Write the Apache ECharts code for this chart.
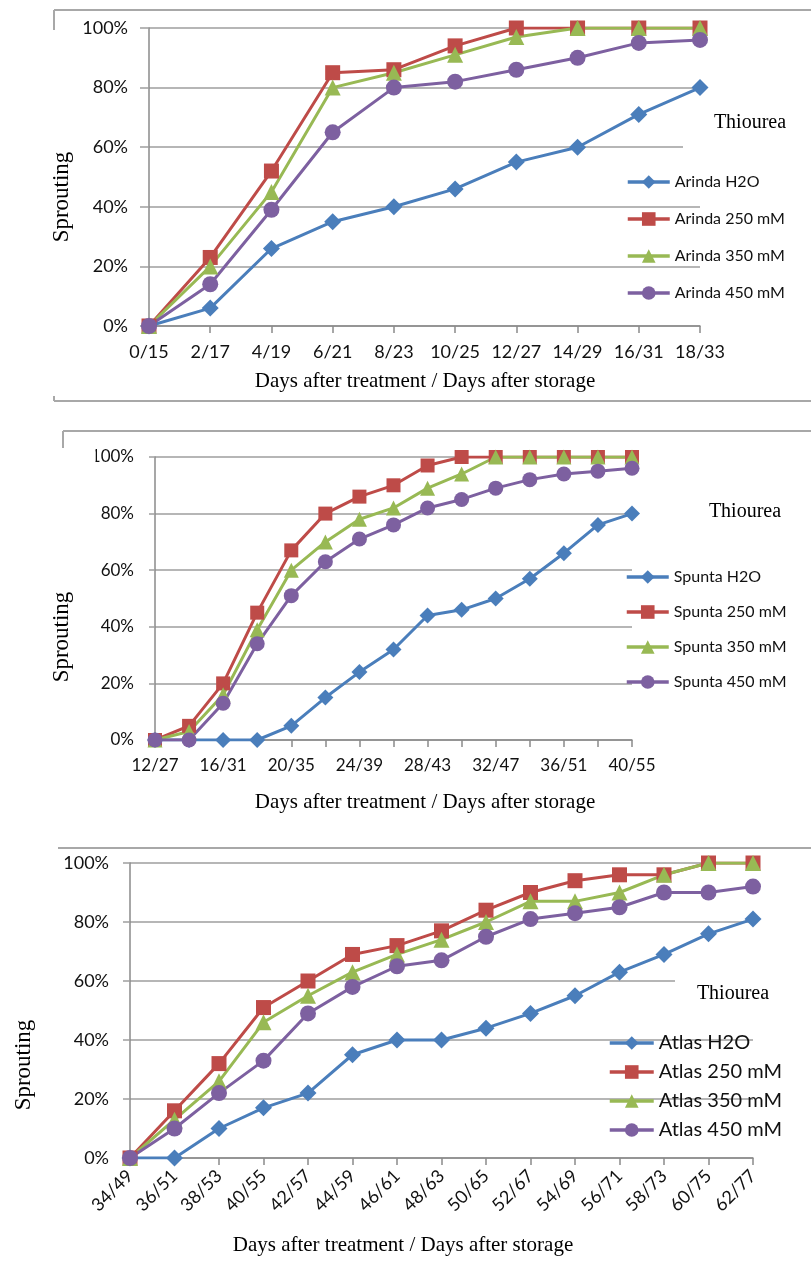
<!DOCTYPE html>
<html>
<head>
<meta charset="utf-8">
<title>Sprouting under thiourea treatment</title>
<script src="https://cdn.jsdelivr.net/npm/echarts@6/dist/echarts.min.js"></script>
<style>
  html, body { margin: 0; padding: 0; background: #fff; }
  #chart { width: 811px; height: 1266px; }
</style>
</head>
<body>
<div id="chart"></div>
<script>
// ---- Arinda ----
const arindaDays = ['0/15', '2/17', '4/19', '6/21', '8/23', '10/25', '12/27', '14/29', '16/31', '18/33'];
const arindaH2O = [0, 6, 26, 35, 40, 46, 55, 60, 71, 80];
const arinda250 = [0, 23, 52, 85, 86, 94, 100, 100, 100, 100];
const arinda350 = [0, 20, 45, 80, 85, 91, 97, 100, 100, 100];
const arinda450 = [0, 14, 39, 65, 80, 82, 86, 90, 95, 96];

// ---- Spunta ----
const spuntaDays = ['12/27', '14/29', '16/31', '18/33', '20/35', '22/37', '24/39', '26/41',
  '28/43', '30/45', '32/47', '34/49', '36/51', '38/53', '40/55'];
const spuntaH2O = [0, 0, 0, 0, 5, 15, 24, 32, 44, 46, 50, 57, 66, 76, 80];
const spunta250 = [0, 5, 20, 45, 67, 80, 86, 90, 97, 100, 100, 100, 100, 100, 100];
const spunta350 = [0, 3, 16, 39, 60, 70, 78, 82, 89, 94, 100, 100, 100, 100, 100];
const spunta450 = [0, 0, 13, 34, 51, 63, 71, 76, 82, 85, 89, 92, 94, 95, 96];

// ---- Atlas ----
const atlasDays = ['34/49', '36/51', '38/53', '40/55', '42/57', '44/59', '46/61', '48/63',
  '50/65', '52/67', '54/69', '56/71', '58/73', '60/75', '62/77'];
const atlasH2O = [0, 0, 10, 17, 22, 35, 40, 40, 44, 49, 55, 63, 69, 76, 81];
const atlas250 = [0, 16, 32, 51, 60, 69, 72, 77, 84, 90, 94, 96, 96, 100, 100];
const atlas350 = [0, 13, 26, 46, 55, 63, 69, 74, 80, 87, 87, 90, 96, 100, 100];
const atlas450 = [0, 10, 22, 33, 49, 58, 65, 67, 75, 81, 83, 85, 90, 90, 92];

const yTicks = [0, 20, 40, 60, 80, 100];
const treatments = ['H2O', '250 mM', '350 mM', '450 mM'];
const xTitle = 'Days after treatment / Days after storage';
const yTitle = 'Sprouting';
const noteText = 'Thiourea';

const SANS = 'Lato, "Open Sans", sans-serif';
const SERIF = '"Liberation Serif", "DejaVu Serif", serif';
const COLORS = ['#4a7ebb', '#be4b48', '#98b954', '#7d60a0'];
const SYMBOLS = ['diamond', 'rect', 'triangle', 'circle'];
const AXIS_GREY = '#8a8a8a';
const GRID_GREY = '#9e9e9e';

// panel layouts (pixels)
const panels = [
  { name: 'Arinda', days: arindaDays, values: [arindaH2O, arinda250, arinda350, arinda450],
    grid: { left: 149, width: 551, top: 28, height: 298 },
    tickFont: 18, yTickLen: 9, labelEvery: 0, rotate: 0, xMargin: 17,
    legend: { left: 621, top: 167, itemWidth: 42, font: 16, lineHeight: 20, gap: 17 },
    symbolSizes: [17, 15, 16, 16] },
  { name: 'Spunta', days: spuntaDays, values: [spuntaH2O, spunta250, spunta350, spunta450],
    grid: { left: 155, width: 477, top: 457, height: 283 },
    tickFont: 17, yTickLen: 6, labelEvery: 1, rotate: 0, xMargin: 17,
    legend: { left: 620, top: 562, itemWidth: 42, font: 16, lineHeight: 20, gap: 15 },
    symbolSizes: [16, 14, 15, 15] },
  { name: 'Atlas', days: atlasDays, values: [atlasH2O, atlas250, atlas350, atlas450],
    grid: { left: 130, width: 623, top: 863, height: 295 },
    tickFont: 18, yTickLen: 7, labelEvery: 0, rotate: 45, xMargin: 15,
    legend: { left: 603, top: 1027, itemWidth: 44, font: 20, lineHeight: 22, gap: 7 },
    symbolSizes: [17, 15, 16, 16] }
];

const grids = [], xAxes = [], yAxes = [], legends = [], series = [];

panels.forEach((p, i) => {
  grids.push({ left: p.grid.left, top: p.grid.top, width: p.grid.width, height: p.grid.height,
    containLabel: false });
  xAxes.push({
    type: 'category', gridIndex: i, data: p.days, boundaryGap: false,
    axisLine: { lineStyle: { color: AXIS_GREY, width: 1.5 } },
    axisTick: { show: true, interval: 0, length: 7, lineStyle: { color: AXIS_GREY, width: 1.5 } },
    axisLabel: { interval: p.labelEvery, rotate: p.rotate, margin: p.xMargin,
      fontFamily: SANS, fontSize: p.tickFont, color: '#111' },
    splitLine: { show: false }
  });
  yAxes.push({
    type: 'value', gridIndex: i, min: yTicks[0], max: yTicks[yTicks.length - 1], interval: 20,
    axisLine: { show: true, lineStyle: { color: AXIS_GREY, width: 1.5 } },
    axisTick: { show: true, length: p.yTickLen, lineStyle: { color: GRID_GREY, width: 1.5 } },
    axisLabel: { formatter: '{value}%', margin: 21, fontFamily: SANS, fontSize: p.tickFont, color: '#111' },
    splitLine: { show: true, lineStyle: { color: GRID_GREY, width: 1.5 } }
  });
  const names = treatments.map(t => p.name + ' ' + t);
  legends.push({
    orient: 'vertical', left: p.legend.left, top: p.legend.top,
    itemWidth: p.legend.itemWidth, itemHeight: 17, itemGap: p.legend.gap,
    data: names, selectedMode: false,
    lineStyle: { width: 3.5 },
    textStyle: { fontFamily: SANS, fontSize: p.legend.font, lineHeight: p.legend.lineHeight, color: '#111' }
  });
  names.forEach((n, k) => {
    series.push({
      name: n, type: 'line', xAxisIndex: i, yAxisIndex: i,
      data: p.values[k],
      symbol: SYMBOLS[k], symbolSize: p.symbolSizes[k],
      showAllSymbol: true,
      lineStyle: { color: COLORS[k], width: 3 },
      itemStyle: { color: COLORS[k] },
      emphasis: { disabled: true },
      animation: false
    });
  });
});

// frames, titles and notes
function hLine(x1, x2, y) {
  return { type: 'line', shape: { x1, y1: y, x2, y2: y }, style: { stroke: '#a8a8a8', lineWidth: 2 }, z: 3 };
}
function vLine(x, y1, y2) {
  return { type: 'line', shape: { x1: x, y1, x2: x, y2 }, style: { stroke: '#a8a8a8', lineWidth: 2 }, z: 3 };
}
function serifText(text, x, y, size, rotation) {
  return { type: 'text', x, y, rotation: rotation || 0, z: 5,
    style: { text, fontFamily: SERIF, fontSize: size, fill: '#000', align: 'center', verticalAlign: 'middle' } };
}
function whiteBox(x, y, w, h) {
  return { type: 'rect', shape: { x, y, width: w, height: h }, style: { fill: '#fff' }, z: 1 };
}

const graphics = [
  // box around the first panel
  hLine(54, 811, 10), vLine(54, 10, 30), hLine(54, 811, 401), vLine(54, 396, 401),
  // second panel frame
  hLine(63, 811, 431), vLine(63, 431, 448),
  // third panel frame
  hLine(58, 811, 848),
  // text boxes behind the "Thiourea" notes
  whiteBox(683, 106, 128, 54),
  whiteBox(675, 972, 136, 40),
  // left edge of the second panel's top tick label sits outside its box
  whiteBox(40, 446, 55.5, 24),
  serifText(noteText, 750, 123, 20),
  serifText(noteText, 745, 512, 20),
  serifText(noteText, 733, 994, 20),
  serifText(xTitle, 425, 381, 21),
  serifText(xTitle, 425, 802, 21),
  serifText(xTitle, 403, 1245, 21),
  serifText(yTitle, 62, 197, 23, Math.PI / 2),
  serifText(yTitle, 62, 637, 23, Math.PI / 2),
  serifText(yTitle, 24, 1065, 23, Math.PI / 2)
];

const chart = echarts.init(document.getElementById('chart'), null, { renderer: 'canvas' });
chart.setOption({
  backgroundColor: '#fff',
  animation: false,
  grid: grids,
  xAxis: xAxes,
  yAxis: yAxes,
  legend: legends,
  series: series,
  graphic: { elements: graphics }
});
</script>
</body>
</html>
